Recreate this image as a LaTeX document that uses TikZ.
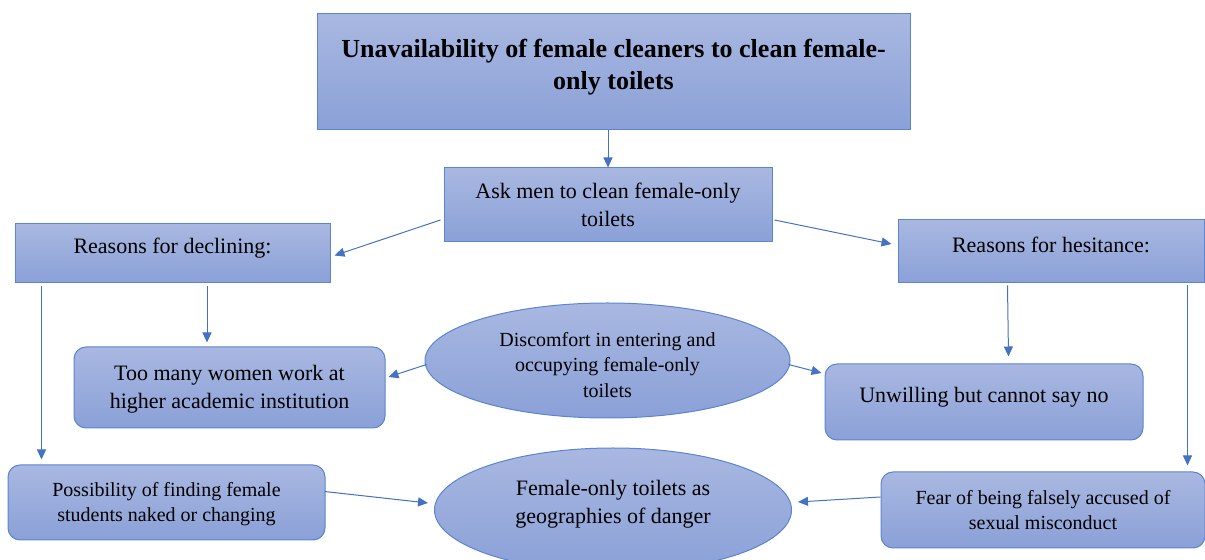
\documentclass[tikz,border=0pt]{standalone}
\usepackage{fontspec}
\setmainfont{Liberation Serif}
\usetikzlibrary{shapes.geometric,arrows.meta}
\definecolor{fillTop}{HTML}{A9B8E1}
\definecolor{fillBot}{HTML}{8AA0D7}
\definecolor{edge}{HTML}{5B84D1}
\definecolor{arrowc}{HTML}{4472C4}
\tikzset{
  shade base/.style={top color=fillTop, bottom color=fillBot, draw=edge, line width=0.5pt, align=center, inner sep=2pt},
  sqbox/.style={shade base, rectangle},
  rbox/.style={shade base, rectangle, rounded corners=6pt},
  oval/.style={shade base, ellipse},
  big/.style={font=\fontsize{11}{14}\selectfont},
  small/.style={font=\fontsize{10}{12.5}\selectfont},
  head/.style={font=\bfseries\fontsize{13}{16}\selectfont},
  link/.style={draw=arrowc, line width=0.5pt, -{Triangle[length=5pt,width=4.5pt]}}
}
\begin{document}
\begin{tikzpicture}[x=0.5pt,y=-0.5pt]
\useasboundingbox (0,0) rectangle (1205,560);
\clip (0,0) rectangle (1205,560);

% rectangles
\node[sqbox, head, minimum width=296.5pt, minimum height=58pt, text depth=8pt] (top) at (613.5,72)
  {Unavailability of female cleaners to clean female-\\only toilets};
\node[sqbox, big, minimum width=164pt, minimum height=37pt] (ask) at (608,205)
  {Ask men to clean female-only\\toilets};
\node[sqbox, big, minimum width=157.5pt, minimum height=29.5pt, text depth=7.9pt] (decl) at (172.5,253.5)
  {Reasons for declining:};
\node[sqbox, big, minimum width=153pt, minimum height=31.5pt, text depth=6.9pt] (hes) at (1051,251.5)
  {Reasons for hesitance:};

% rounded boxes
\node[rbox, big, minimum width=155.5pt, minimum height=40.5pt, text height=23.6pt] (many) at (229.5,387.5)
  {Too many women work at\\higher academic institution};
\node[rbox, big, minimum width=159pt, minimum height=38pt, text depth=7.4pt] (unw) at (984,402)
  {Unwilling but cannot say no};
\node[rbox, small, minimum width=158.5pt, minimum height=37.5pt, text height=20.9pt] (poss) at (166.5,502.5)
  {Possibility of finding female\\students naked or changing};
\node[rbox, small, minimum width=162pt, minimum height=38pt] (fear) at (1043,510)
  {Fear of being falsely accused of\\sexual misconduct};

% ellipses
\node[oval, font=\fontsize{10}{12.75}\selectfont, minimum width=182.5pt, minimum height=57.5pt, inner sep=0pt, text height=36.9pt] (disc) at (607.5,360.5)
  {Discomfort in entering and\\occupying female-only\\toilets};
\node[oval, big, minimum width=178.5pt, minimum height=62pt, inner sep=0pt, text depth=8pt] (fot) at (613,510)
  {Female-only toilets as\\geographies of danger};

% connectors
\draw[link] (top.south -| ask.north) -- (ask.north);
\draw[link] ([shift={(-3,15)}]ask.west) -- ([shift={(4,2)}]decl.east);
\draw[link] ([shift={(2,15)}]ask.east) -- ([shift={(-6,-7.5)}]hes.west);
\draw[link] ([shift={(34.5,3)}]decl.south) -- ([shift={(-22.5,-4)}]many.north);
\draw[link] ([shift={(27,3)}]decl.south west) -- ([shift={(34,-5)}]poss.north west);
\draw[link] ([shift={(110,2)}]hes.south west) -- ([shift={(184,-7)}]unw.north west);
\draw[link] ([shift={(-17,2)}]hes.south east) -- ([shift={(-18,-6)}]fear.north east);
\draw[link] ([shift={(2,4)}]disc.west) -- ([shift={(3,-10.5)}]many.east);
\draw[link] ([shift={(-2,4)}]disc.east) -- ([shift={(-3,-29)}]unw.west);
\draw[link] ([shift={(-1,-11)}]poss.east) -- ([shift={(-6,-7)}]fot.west);
\draw[link] ([shift={(0,-13)}]fear.west) -- ([shift={(6,-8)}]fot.east);
\end{tikzpicture}
\end{document}
